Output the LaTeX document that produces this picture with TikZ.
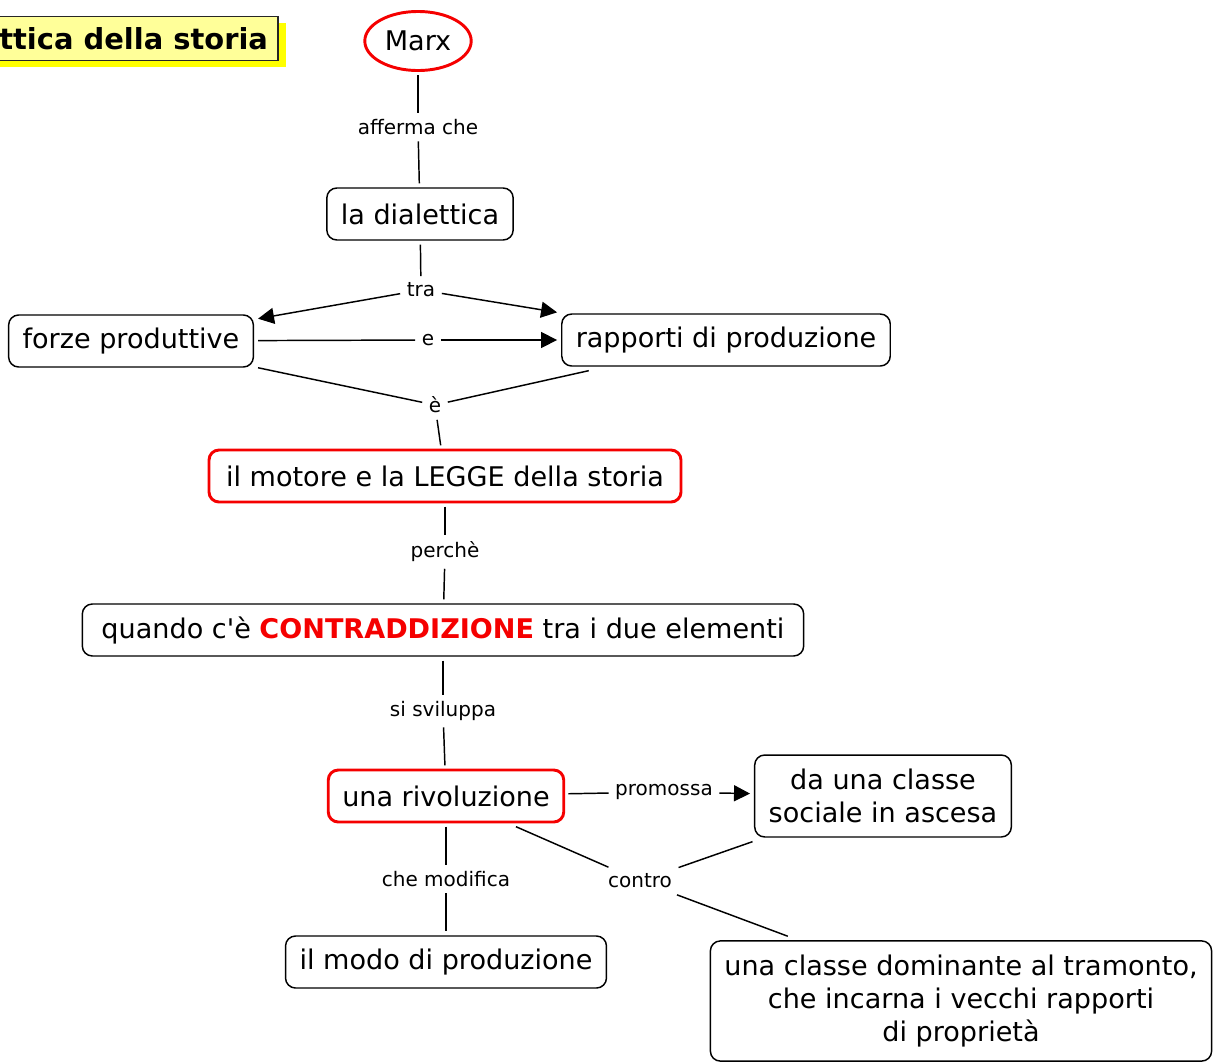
\documentclass[tikz,border=0pt]{standalone}
\usepackage{fontspec}
\setmainfont{DejaVu Sans}
\usepackage{tikz}
\usetikzlibrary{arrows.meta,shapes.geometric,shadows}

\definecolor{titlefill}{RGB}{255,255,153}
\definecolor{titleshadow}{RGB}{255,255,0}
\definecolor{mapred}{RGB}{245,0,0}

\tikzset{
  concept/.style={draw, rounded corners=7.5pt, line width=1.1pt, fill=white,
    font=\fontsize{20.3}{24.75}\selectfont, inner xsep=10.5pt, inner ysep=6pt,
    minimum height=39pt, align=center, outer sep=3.5pt},
  tallconcept/.style={concept, inner ysep=10.5pt},
  redconcept/.style={concept, draw=mapred, line width=2.2pt},
  phrase/.style={font=\fontsize{15}{18}\selectfont, inner sep=2pt, outer sep=3pt},
  link/.style={line width=1.1pt},
  arr/.style={link, -{Triangle[length=12pt,width=12pt]}},
  titlebox/.style={draw=black!85, line width=1.1pt, fill=titlefill,
    font=\bfseries\fontsize{21.7}{26}\selectfont, inner xsep=7.5pt,
    minimum height=33pt, outer sep=0pt,
    drop shadow={shadow xshift=6pt, shadow yshift=-4.5pt, fill=titleshadow, opacity=1}}
}

\begin{document}
\begin{tikzpicture}[x=0.75pt, y=-0.75pt]
  \clip (0,0) rectangle (1221,1061);

    %Title
    \node[titlebox, anchor=east] (titolo) at (278,38.5) {ttica della storia};

    %Concepts
    \node[ellipse, draw=mapred, line width=2.2pt, minimum width=75.8pt, minimum height=44.3pt,
      font=\fontsize{20.3}{24}\selectfont, outer sep=3.5pt] (marx) at (418,41) {Marx};
    \node[concept] (dial) at (420,214) {la dialettica};
    \node[concept] (forze) at (131,341) {forze produttive};
    \node[concept] (rapp) at (726,340) {rapporti di produzione};
    \node[redconcept, minimum width=354pt] (motore) at (445,476) {il motore e la LEGGE della storia};
    \node[concept, minimum width=541pt] (contr) at (443,630) {quando c\textquotesingle è \textcolor{mapred}{\bfseries CONTRADDIZIONE} tra i due elementi};
    \node[redconcept] (rivol) at (446,796) {una rivoluzione};
    \node[tallconcept] (ascesa) at (883,796) {da una classe\\sociale in ascesa};
    \node[concept] (modo) at (446,962) {il modo di produzione};
    \node[tallconcept] (domin) at (961,1001) {una classe dominante al tramonto,\\che incarna i vecchi rapporti\\di proprietà};

    %Linking phrases
    \node[phrase] (afferma) at (418,127) {afferma che};
    \node[phrase] (tra) at (421,290) {tra};
    \node[phrase] (e) at (428,340) {e};
    \node[phrase] (eacc) at (435,405) {è};
    \node[phrase] (perche) at (445,552) {perchè};
    \node[phrase] (svil) at (443,711) {si sviluppa};
    \node[phrase] (promossa) at (664,792) {promossa};
    \node[phrase] (modifica) at (446,879) {che modifica};
    \node[phrase] (contro) at (640,881) {contro};

    %Links
    \foreach \a/\b in {marx/afferma, afferma/dial, dial/tra, forze/e, forze/eacc, rapp/eacc,
      eacc/motore, motore/perche, perche/contr, contr/svil, svil/rivol, rivol/promossa,
      rivol/modifica, modifica/modo, rivol/contro, contro/ascesa, contro/domin}
      \draw[link] (\a) -- (\b);
    \foreach \a/\b in {tra/forze, tra/rapp, e/rapp, promossa/ascesa}
      \draw[arr] (\a) -- (\b);

  \end{tikzpicture}
\end{document}
